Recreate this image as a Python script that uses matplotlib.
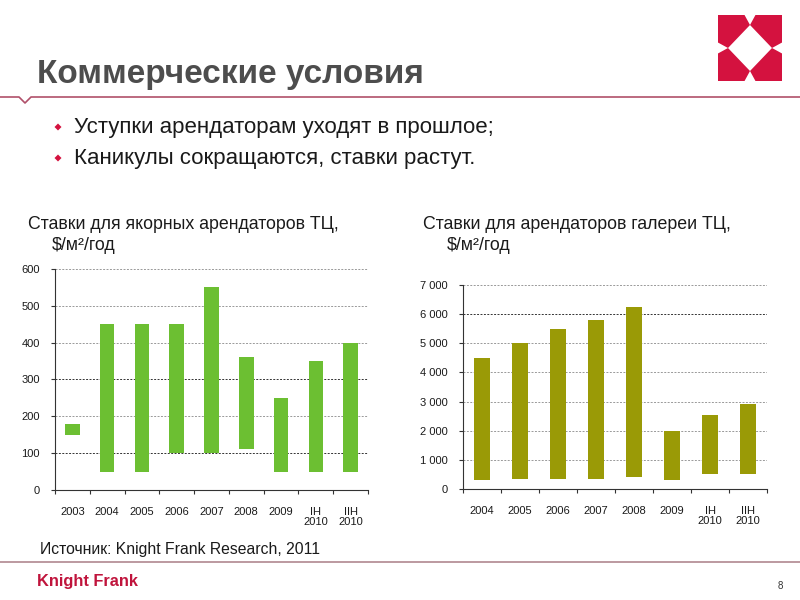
import matplotlib
matplotlib.use("Agg")
import matplotlib.pyplot as plt
from matplotlib.patches import Polygon
from matplotlib.ticker import FuncFormatter

plt.rcParams['font.family'] = ['Liberation Sans', 'DejaVu Sans']

# ---- data ----
anchor_labels = ["2003", "2004", "2005", "2006", "2007", "2008", "2009", "IH\n2010", "IIH\n2010"]
anchor_low = [150, 50, 50, 100, 100, 110, 50, 50, 50]
anchor_high = [180, 450, 450, 450, 550, 360, 250, 350, 400]

gallery_labels = ["2004", "2005", "2006", "2007", "2008", "2009", "IH\n2010", "IIH\n2010"]
gallery_low = [300, 350, 350, 350, 400, 300, 500, 500]
gallery_high = [4500, 5000, 5500, 5800, 6250, 2000, 2550, 2900]

title = "Коммерческие условия"
bullets = ["Уступки арендаторам уходят в прошлое;", "Каникулы сокращаются, ставки растут."]
left_title = "Ставки для якорных арендаторов ТЦ,"
right_title = "Ставки для арендаторов галереи ТЦ,"
unit = "$/м²/год"
source = "Источник: Knight Frank Research, 2011"

W, H = 800, 600
fig = plt.figure(figsize=(8, 6), dpi=100)
fig.patch.set_facecolor("white")

bg = fig.add_axes([0, 0, 1, 1])
bg.set_xlim(0, W)
bg.set_ylim(H, 0)
bg.axis("off")

crimson = "#d4123f"
# logo
bg.add_patch(Polygon([(718, 15), (782, 15), (782, 81), (718, 81)], closed=True, fc=crimson, ec="none"))
white = "white"
cx, cy = 750, 48
bg.add_patch(Polygon([(cx, 25), (772, cy), (cx, 71), (728, cy)], closed=True, fc=white, ec="none"))
bg.add_patch(Polygon([(744, 14), (756, 14), (cx, 25)], closed=True, fc=white, ec="none"))
bg.add_patch(Polygon([(744, 82), (756, 82), (cx, 71)], closed=True, fc=white, ec="none"))
bg.add_patch(Polygon([(717, 42), (717, 54), (728, cy)], closed=True, fc=white, ec="none"))
bg.add_patch(Polygon([(783, 42), (783, 54), (772, cy)], closed=True, fc=white, ec="none"))

# title
bg.text(37, 83, title, fontsize=24, fontweight="bold", color="#4d4d4d", va="baseline", ha="left")
# header line with notch
bg.plot([0, 19, 25, 31, 800], [97, 97, 103, 97, 97], color="#b0506a", lw=1.2)

# bullets
for i, b in enumerate(bullets):
    yb = 133 + i * 31
    yc = yb - 6
    bg.add_patch(Polygon([(58, yc - 3.5), (61.5, yc), (58, yc + 3.5), (54.5, yc)], closed=True, fc=crimson, ec="none"))
    bg.text(74, yb, b, fontsize=16, color="#1a1a1a", va="baseline", ha="left")

# chart titles
bg.text(28, 229, left_title, fontsize=12.8, color="#1a1a1a", va="baseline", ha="left")
bg.text(52, 250, unit, fontsize=12.8, color="#1a1a1a", va="baseline", ha="left")
bg.text(423, 229, right_title, fontsize=12.8, color="#1a1a1a", va="baseline", ha="left")
bg.text(447, 250, unit, fontsize=12.8, color="#1a1a1a", va="baseline", ha="left")

# source and footer
bg.text(40, 554, source, fontsize=11.3, color="#1a1a1a", va="baseline", ha="left")
bg.plot([0, 800], [562, 562], color="#b08890", lw=1.2)
bg.text(37, 586, "Knight Frank", fontsize=11.8, fontweight="bold", color="#c0143c",
        va="baseline", ha="left")
bg.text(778, 589, "8", fontsize=7, color="#333333", va="baseline", ha="left")


def px_axes(left, right, top, bottom):
    return fig.add_axes([left / W, 1 - bottom / H, (right - left) / W, (bottom - top) / H])


def style_axes(ax, labels, ymax, step, dark, fmt):
    n = len(labels)
    ax.set_xlim(-0.5, n - 0.5)
    ax.set_ylim(0, ymax)
    ticks = list(range(0, ymax + 1, step))
    ax.set_yticks(ticks)
    ax.yaxis.set_major_formatter(FuncFormatter(fmt))
    for t in ticks[1:]:
        ax.axhline(t, color="#333333" if t in dark else "#999999", lw=0.7,
                   ls=(0, (2, 1.5)), zorder=0)
    ax.set_xticks(range(n))
    ax.set_xticklabels(labels, fontsize=8, color="#1a1a1a", linespacing=1.0)
    ax.set_xticks([i - 0.5 for i in range(n + 1)], minor=True)
    ax.tick_params(axis="x", which="major", length=0, pad=12)
    ax.tick_params(axis="x", which="minor", length=3, width=0.8, color="#333333", direction="out")
    ax.tick_params(axis="y", length=3, width=0.8, color="#333333", labelsize=8, labelcolor="#1a1a1a", pad=8)
    for s in ["top", "right"]:
        ax.spines[s].set_visible(False)
    for s in ["left", "bottom"]:
        ax.spines[s].set_color("#333333")
        ax.spines[s].set_linewidth(0.8)
    ax.set_facecolor("none")


# left chart
ax1 = px_axes(55, 368, 269, 490)
x1 = list(range(len(anchor_labels)))
ax1.bar(x1, [h - l for h, l in zip(anchor_high, anchor_low)], bottom=anchor_low,
        width=0.42, color="#6cbf32", zorder=2)
style_axes(ax1, anchor_labels, 600, 100, {100, 300}, lambda v, p: f"{int(v)}")

# right chart
ax2 = px_axes(463, 767, 285, 489)
x2 = list(range(len(gallery_labels)))
ax2.bar(x2, [h - l for h, l in zip(gallery_high, gallery_low)], bottom=gallery_low,
        width=0.4, color="#9a9a06", zorder=2)
style_axes(ax2, gallery_labels, 7000, 1000, {6000},
           lambda v, p: f"{int(v):,}".replace(",", " "))

fig.savefig("out.png", dpi=100, facecolor="white")
